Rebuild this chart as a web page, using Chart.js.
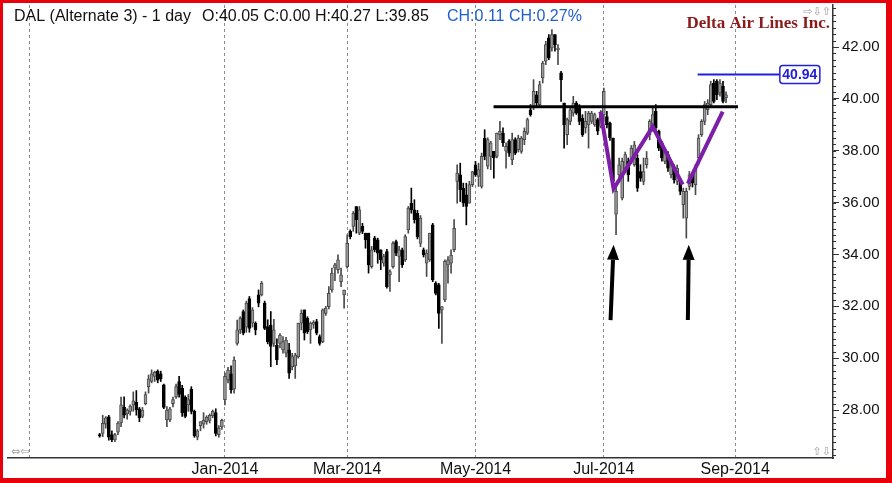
<!DOCTYPE html>
<html>
<head>
<meta charset="utf-8">
<script src="https://cdn.jsdelivr.net/npm/chart.js@4.4.0/dist/chart.umd.min.js"></script>
<style>
html, body { margin: 0; padding: 0; background: #fff; }
#wrap { position: relative; width: 892px; height: 483px; }
</style>
</head>
<body>
<div id="wrap"><canvas id="dal-chart"></canvas></div>
<script>
// daily bars, 1 Nov 2013 .. 27 Aug 2014 (x = trading-day index)
var opens = [
  27.05,27.10,27.45,27.74,27.05,26.85,27.15,27.50,28.10,27.85,
  27.95,28.20,28.30,28.05,27.75,28.25,28.90,29.10,29.30,29.50,
  29.40,28.97,27.62,27.62,28.25,28.50,29.10,28.85,28.50,28.20,
  28.80,27.95,26.95,27.40,27.45,27.55,27.60,27.78,27.90,27.05,
  27.35,28.40,29.16,29.40,28.80,30.57,31.09,31.80,31.20,32.30,
  31.35,31.35,32.44,32.44,32.12,31.22,31.28,30.57,30.50,30.57,
  30.32,30.19,30.32,29.67,29.70,30.06,31.35,31.86,31.54,31.09,
  31.30,31.41,30.83,30.64,31.73,31.99,32.63,33.47,33.41,32.95,
  32.44,33.53,34.89,35.08,35.85,34.82,35.08,34.82,34.82,33.53,
  34.63,34.56,34.18,33.66,34.11,33.21,33.53,34.50,33.92,34.18,
  33.79,34.95,35.98,35.72,35.59,34.43,34.18,33.66,33.79,35.14,
  32.89,32.83,31.86,32.25,33.60,33.66,34.18,36.82,37.07,36.56,
  36.30,35.98,36.69,37.46,37.01,36.62,38.49,37.40,37.78,37.98,
  37.78,38.62,38.68,37.98,38.36,37.65,38.43,38.04,37.97,38.43,
  38.68,39.58,39.65,40.16,39.78,40.81,41.45,42.35,41.96,42.48,
  41.90,41.00,39.84,38.62,39.13,39.45,39.84,39.71,39.26,38.88,
  39.00,39.13,39.00,39.20,38.94,39.39,39.32,39.07,38.49,35.55,
  37.07,36.17,37.33,37.59,37.59,37.46,37.72,37.20,36.82,37.46,
  38.62,38.88,39.52,38.75,38.30,37.59,37.85,37.07,37.33,36.82,
  36.82,35.92,35.40,36.62,37.07,36.69,37.72,38.62,39.13,39.58,
  39.78,40.61,40.68,40.23,40.48,40.05
];
var highs = [
  27.10,27.80,27.75,27.80,27.20,27.10,27.55,28.50,28.51,28.05,
  28.20,28.70,28.75,28.10,28.10,28.70,29.35,29.55,29.50,29.55,
  29.50,29.00,28.13,28.10,28.50,29.00,29.30,28.95,28.55,28.60,
  28.90,28.00,27.25,27.55,27.90,27.78,27.85,28.00,28.05,27.40,
  27.65,29.43,29.65,29.70,30.05,31.47,31.60,31.86,32.20,32.38,
  31.95,31.40,32.63,32.96,32.20,31.48,31.80,31.50,30.75,30.95,
  30.83,30.80,30.57,30.19,30.19,31.35,31.86,31.86,31.60,31.40,
  31.45,31.50,30.90,31.90,32.00,32.76,33.47,33.66,33.99,33.47,
  32.63,34.76,34.95,35.66,35.85,35.85,35.20,34.82,34.82,34.31,
  34.70,34.63,34.18,34.00,34.20,33.41,34.50,34.55,34.31,34.25,
  34.76,35.85,36.56,36.11,35.70,35.50,34.25,34.18,34.82,35.20,
  32.95,32.89,31.99,33.79,33.92,34.18,35.34,37.46,37.52,36.75,
  36.75,36.82,37.20,37.59,37.52,37.91,38.81,38.50,38.36,37.98,
  38.68,39.13,38.88,38.30,38.43,38.68,38.50,38.60,38.55,38.88,
  39.26,39.78,40.74,40.29,40.68,41.45,42.22,42.48,42.67,42.48,
  42.09,41.06,39.84,39.26,39.65,40.10,39.90,39.78,39.39,39.52,
  39.52,39.52,39.45,39.26,39.55,40.42,39.52,39.10,38.49,36.60,
  37.72,37.72,37.95,37.72,38.20,38.36,37.85,37.46,37.72,37.97,
  39.20,39.65,39.78,38.80,38.36,38.10,37.97,37.60,37.46,37.45,
  36.95,36.56,36.56,37.20,37.15,37.46,38.62,39.20,39.90,39.97,
  40.68,40.74,40.74,40.74,40.68,40.27
];
var lows = [
  26.95,26.97,27.30,26.84,26.78,26.78,27.05,27.36,27.70,27.65,
  27.80,27.95,27.80,27.55,27.70,28.20,28.65,29.05,29.10,29.05,
  29.10,28.05,27.36,27.55,28.12,28.45,28.50,27.75,27.70,27.95,
  27.85,26.95,26.85,27.20,27.30,27.45,27.50,27.70,27.00,26.95,
  27.25,28.20,29.05,28.65,28.65,30.50,30.95,30.90,31.00,31.00,
  31.20,30.90,31.98,32.40,31.10,30.55,29.67,30.45,29.75,30.40,
  30.19,30.05,29.22,29.55,29.22,30.00,31.09,30.70,30.95,30.57,
  31.15,30.90,30.50,30.60,31.65,31.90,32.55,32.99,33.28,32.76,
  31.93,33.47,34.60,34.89,34.82,34.76,34.80,34.24,33.28,33.47,
  34.10,33.66,33.41,33.55,32.70,32.57,33.47,33.95,32.95,33.50,
  33.73,34.82,35.59,35.21,34.60,34.30,33.90,33.15,33.73,32.95,
  32.44,31.15,30.57,32.18,32.89,33.28,34.11,35.98,36.04,35.85,
  35.14,35.98,36.62,37.01,36.62,36.56,37.65,37.30,37.27,36.94,
  37.72,38.43,38.17,37.33,37.78,37.46,37.85,37.95,37.90,38.23,
  38.62,39.33,39.58,39.71,39.71,40.61,41.32,41.51,41.84,41.84,
  41.32,39.90,38.10,38.23,39.00,39.33,39.40,39.00,38.55,38.68,
  38.10,39.05,38.94,38.62,38.88,39.13,38.88,38.40,36.69,34.76,
  36.82,36.10,37.20,36.82,37.50,37.40,36.43,36.82,36.69,37.33,
  38.42,38.75,38.75,38.00,37.60,37.50,37.20,36.95,36.75,36.69,
  36.30,35.40,34.63,36.49,36.60,36.30,37.46,38.55,39.00,39.39,
  39.71,39.84,39.97,40.10,39.84,39.85
];
var closes = [
  27.00,27.49,27.70,26.95,26.85,27.05,27.50,28.20,27.80,28.00,
  28.15,28.35,28.00,27.70,28.00,28.60,29.20,29.40,29.45,29.15,
  29.20,28.10,28.00,28.05,28.40,28.90,28.60,27.90,27.75,28.40,
  27.95,27.00,27.20,27.55,27.60,27.72,27.80,27.95,27.10,27.30,
  27.60,29.30,29.54,28.78,29.93,31.09,31.55,30.96,32.12,31.15,
  31.86,31.09,32.12,32.89,31.15,30.64,30.45,31.09,29.93,30.89,
  30.64,30.70,29.42,30.06,30.12,31.35,31.73,30.96,31.02,31.35,
  31.38,30.96,30.57,31.86,31.93,32.50,33.28,33.60,33.79,33.21,
  32.63,34.43,34.69,35.59,35.34,35.72,34.89,34.56,33.60,34.18,
  34.18,34.05,33.79,33.92,32.76,33.34,34.43,34.05,34.18,33.60,
  34.69,35.79,35.72,35.34,34.69,35.40,33.98,34.05,34.82,33.02,
  32.50,31.73,31.99,33.73,33.79,33.98,35.01,37.14,36.49,35.98,
  35.85,36.69,37.20,37.07,37.27,37.78,37.78,38.43,38.30,37.72,
  38.68,38.75,38.30,38.17,37.91,38.43,37.91,38.49,38.49,38.75,
  39.20,39.39,40.29,39.84,40.55,41.38,42.09,41.58,42.48,42.09,
  41.96,40.74,39.00,39.20,39.58,39.84,39.45,39.13,38.62,39.13,
  39.45,39.45,39.39,38.75,39.45,40.29,39.00,38.49,36.82,36.43,
  37.46,37.59,37.85,37.07,38.10,38.23,36.56,36.94,37.20,37.72,
  39.13,39.39,38.88,38.10,37.72,38.04,37.33,37.46,36.88,37.33,
  36.43,36.43,36.43,37.07,36.75,37.33,38.49,39.13,39.78,39.84,
  40.55,39.90,40.16,40.61,39.90,40.16
];

// x axis: first trading day of each marked month (index), and its label
var monthTicks = [-23, 41, 81, 123, 165, 208];
var monthLabels = ['', 'Jan-2014', 'Mar-2014', 'May-2014', 'Jul-2014', 'Sep-2014'];
var priceTicks = [28, 30, 32, 34, 36, 38, 40, 42];

// drawn studies (index, price)
var necklineX = [128.9, 208.9];
var necklineY = [39.70, 39.70];
var leftLegX = [163.9, 168.2, 181.0, 190.8];
var leftLegY = [39.51, 36.53, 38.93, 36.69];
var rightLegX = [192.5, 203.9];
var rightLegY = [36.73, 39.51];
var lastMark = 40.94;
var lastMarkX = [195.7, 222.6];
var arrowBaseX = [167.2, 192.5];
var arrowTipX = [168.2, 192.8];
var arrowBaseY = 31.47;
var arrowTipY = 34.37;

var FONT = 'Arial, "Liberation Sans", sans-serif';

function pts(xs, ys) {
  return xs.map(function (x, k) { return { x: x, y: ys[k] }; });
}

var upBody = '#9a9a9a', upEdge = '#4a4a4a', downColor = '#000';
var isUp = closes.map(function (c, i) { return c >= opens[i]; });
var bodyColors = isUp.map(function (u) { return u ? upBody : downColor; });
var edgeColors = isUp.map(function (u) { return u ? upEdge : downColor; });

var decor = {
  id: 'decor',
  beforeDraw: function (chart) {
    var c = chart.ctx;
    c.save();
    c.fillStyle = '#fff';
    c.fillRect(0, 0, chart.width, chart.height);
    c.restore();
  },
  afterDraw: function (chart) {
    var c = chart.ctx, xs = chart.scales.x, ys = chart.scales.y, area = chart.chartArea;
    var last = closes.length - 1;
    c.save();

    // minor ticks on the price axis
    c.strokeStyle = '#333';
    c.lineWidth = 1;
    for (var v = 26.25; v <= 43.5; v += 0.25) {
      var py = Math.round(ys.getPixelForValue(v)) + 0.5;
      c.beginPath();
      c.moveTo(area.right, py);
      c.lineTo(area.right + 3, py);
      c.stroke();
    }

    // header line
    c.textAlign = 'left';
    c.textBaseline = 'alphabetic';
    c.font = '16px ' + FONT;
    c.fillStyle = '#111';
    c.fillText('DAL (Alternate 3) - 1 day', 14, 21);
    c.fillText('O:' + opens[last].toFixed(2) + ' C:0.00 H:' + highs[last].toFixed(2) +
      ' L:' + lows[last].toFixed(2), 202, 21);
    c.fillStyle = '#1f5fd1';
    c.fillText('CH:0.11 CH:0.27%', 447, 21);

    c.font = 'bold 17px "Liberation Serif", "Times New Roman", serif';
    c.fillStyle = '#8b1a1a';
    c.textAlign = 'right';
    c.fillText('Delta Air Lines Inc.', 830, 28);

    // small scroll icons
    c.font = '11px "DejaVu Sans", sans-serif';
    c.fillStyle = '#a0a0a0';
    c.fillText('\u21E8\u21E9\u21E7', 831, 15);
    c.fillText('\u21E7\u21E9', 831, 455);
    c.textAlign = 'left';
    c.fillText('\u21D4\u21E6', 11, 455);

    // last price box
    var bx = xs.getPixelForValue(lastMarkX[1]), by = ys.getPixelForValue(lastMark);
    c.beginPath();
    c.roundRect(bx, by - 9, 40, 18, 3);
    c.fillStyle = '#fff';
    c.fill();
    c.lineWidth = 1.5;
    c.strokeStyle = '#2020d8';
    c.stroke();
    c.font = 'bold 14px ' + FONT;
    c.fillStyle = '#2020d8';
    c.textAlign = 'center';
    c.textBaseline = 'middle';
    c.fillText(lastMark.toFixed(2), bx + 20, by + 1);

    // arrows
    c.fillStyle = '#000';
    c.strokeStyle = '#000';
    c.lineWidth = 4;
    for (var k = 0; k < arrowBaseX.length; k++) {
      var x0 = xs.getPixelForValue(arrowBaseX[k]), y0 = ys.getPixelForValue(arrowBaseY);
      var x1 = xs.getPixelForValue(arrowTipX[k]), y1 = ys.getPixelForValue(arrowTipY);
      var a = Math.atan2(y1 - y0, x1 - x0), hl = 15, hw = 6;
      var nx = x1 - hl * Math.cos(a), ny = y1 - hl * Math.sin(a);
      c.beginPath();
      c.moveTo(x0, y0);
      c.lineTo(nx, ny);
      c.stroke();
      c.beginPath();
      c.moveTo(x1, y1);
      c.lineTo(nx + hw * Math.sin(a), ny - hw * Math.cos(a));
      c.lineTo(nx - hw * Math.sin(a), ny + hw * Math.cos(a));
      c.closePath();
      c.fill();
    }

    // red frame
    c.fillStyle = '#e8000b';
    c.fillRect(0, 0, chart.width, 3);
    c.fillRect(0, 0, 3, chart.height);
    c.fillRect(chart.width - 6, 0, 6, chart.height);
    c.fillRect(0, chart.height - 5, chart.width, 5);
    c.restore();
  }
};

var ctx = document.getElementById('dal-chart').getContext('2d');
var dalChart = new Chart(ctx, {
  type: 'bar',
  data: {
    datasets: [
      {
        type: 'line', data: pts(necklineX, necklineY),
        borderColor: '#000', borderWidth: 3, pointRadius: 0, order: 0
      },
      {
        type: 'line', data: pts(leftLegX, leftLegY),
        borderColor: '#7d1ea8', borderWidth: 4, pointRadius: 0, order: 0
      },
      {
        type: 'line', data: pts(rightLegX, rightLegY),
        borderColor: '#7d1ea8', borderWidth: 4, pointRadius: 0, order: 0
      },
      {
        type: 'line', data: pts(lastMarkX, [lastMark, lastMark]),
        borderColor: '#2020d8', borderWidth: 2, pointRadius: 0, order: 0
      },
      {
        label: 'range',
        data: lows.map(function (l, i) { return { x: i, y: [l, highs[i]] }; }),
        backgroundColor: edgeColors, barThickness: 1, grouped: false, order: 2
      },
      {
        label: 'body',
        data: opens.map(function (o, i) { return { x: i, y: [o, closes[i]] }; }),
        backgroundColor: bodyColors, borderColor: edgeColors, borderWidth: 1,
        borderSkipped: false, barThickness: 3, minBarLength: 1, grouped: false, order: 1
      }
    ]
  },
  options: {
    responsive: true,
    maintainAspectRatio: false,
    animation: false,
    layout: { padding: { left: 8, top: 5, right: 0, bottom: 0 } },
    plugins: { legend: { display: false }, tooltip: { enabled: false } },
    scales: {
      x: {
        type: 'linear', min: -30, max: 240, offset: false,
        grid: { color: '#8a8a8a', lineWidth: 1, drawTicks: false, offset: false },
        border: { color: '#333', width: 1.5, dash: [3, 3] },
        ticks: {
          font: { family: FONT, size: 16 }, color: '#111', padding: 2,
          autoSkip: false, maxRotation: 0,
          callback: function (v) {
            var k = monthTicks.indexOf(v);
            return k < 0 ? '' : monthLabels[k];
          }
        },
        afterBuildTicks: function (s) {
          s.ticks = monthTicks.map(function (v) { return { value: v }; });
        },
        afterFit: function (s) {
          s.height = 25; s.paddingLeft = 0; s.paddingRight = 0;
        }
      },
      y: {
        type: 'linear', position: 'right', min: 26.15, max: 43.62,
        grid: { drawOnChartArea: false, drawTicks: true, tickLength: 6, color: '#333' },
        border: { color: '#333', width: 1.5 },
        ticks: {
          font: { family: FONT, size: 15 }, color: '#111', padding: 3,
          callback: function (v) { return v.toFixed(2); }
        },
        afterBuildTicks: function (s) {
          s.ticks = priceTicks.map(function (v) { return { value: v }; });
        },
        afterFit: function (s) {
          s.width = 59; s.paddingTop = 0; s.paddingBottom = 0;
        }
      }
    }
  },
  plugins: [decor]
});
</script>
</body>
</html>
